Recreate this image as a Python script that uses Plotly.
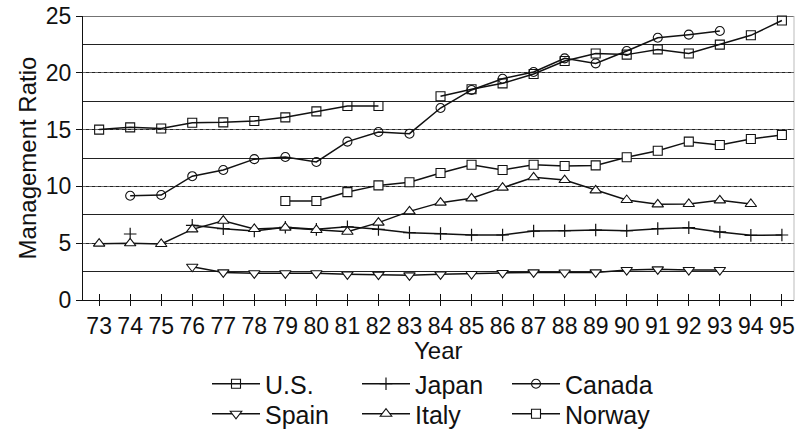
import plotly.graph_objects as go

years = list(range(73, 96))
year_labels = [str(y) for y in years]

us = [15.0, 15.2, 15.1, 15.6, 15.64, 15.76, 16.08, 16.6, 17.08, 17.08, None,
      17.93, 18.55, 19.07, 19.9, 21.04, 21.7, 21.6, 22.06, 21.7, 22.48, 23.3, 24.6]
japan = [None, 5.81, None, 6.57, 6.28, 6.07, 6.4, 6.22, 6.45, 6.22, 5.93,
         5.84, 5.72, 5.72, 6.07, 6.1, 6.16, 6.1, 6.28, 6.37, 5.99, 5.69, 5.72]
canada = [None, 9.18, 9.24, 10.9, 11.44, 12.4, 12.59, 12.15, 13.94, 14.79, 14.64,
          16.9, 18.49, 19.48, 20.07, 21.27, 20.83, 21.92, 23.09, 23.36, 23.68, None, None]
spain = [None, None, None, 2.93, 2.43, 2.35, 2.35, 2.35, 2.26, 2.23, 2.17,
         2.26, 2.29, 2.38, 2.43, 2.42, 2.43, 2.64, 2.7, 2.64, 2.64, None, None]
italy = [4.96, 4.99, 4.93, 6.22, 6.98, 6.25, 6.37, 6.16, 6.01, 6.81, 7.8,
         8.57, 8.95, 9.89, 10.8, 10.56, 9.65, 8.8, 8.42, 8.45, 8.77, 8.45, None]
norway = [None, None, None, None, None, None, 8.71, 8.71, 9.5, 10.09, 10.36,
          11.18, 11.91, 11.44, 11.91, 11.8, 11.85, 12.56, 13.14, 13.94, 13.64, 14.17, 14.52]

ytick_vals = [0, 5, 10, 15, 20, 25]
ytick_labels = ["0", "5", "10", "15", "20", "25"]
x_title = "Year"
y_title = "Management Ratio"

FONT = "Liberation Sans, Arial, sans-serif"
LC = "#111111"

fig = go.Figure()

def add(name, vals, symbol, size, fill, legend, lw=1.5, mlw=1.1):
    fig.add_trace(go.Scatter(
        x=years, y=vals, name=name, mode="lines+markers",
        line=dict(color=LC, width=lw),
        marker=dict(symbol=symbol, size=size, color=fill,
                    line=dict(color=LC, width=mlw)),
        connectgaps=False, legend=legend, cliponaxis=False))

add("U.S.", us, "square-open", 9, LC, "legend")
add("Japan", japan, "cross-thin", 9, LC, "legend", mlw=1.2)
add("Canada", canada, "circle-open", 9, LC, "legend")
add("Spain", spain, "triangle-down", 10, "white", "legend2")
add("Italy", italy, "triangle-up", 10, "white", "legend2")
add("Norway", norway, "square", 9, "white", "legend2")

# secondary x axis just for inward half of crossing tick marks
fig.add_trace(go.Scatter(x=[years[0]], y=[None], xaxis="x2", showlegend=False,
                         hoverinfo="skip"))

legend_common = dict(orientation="h", xref="container", yref="container",
                     x=207/797, xanchor="left", yanchor="middle",
                     itemwidth=48, entrywidth=87, entrywidthmode="pixels",
                     font=dict(size=25), bgcolor="rgba(0,0,0,0)", itemclick=False)

fig.update_layout(
    template="none",
    width=797, height=434,
    margin=dict(l=83, r=3, t=16, b=134, autoexpand=False),
    paper_bgcolor="white", plot_bgcolor="white",
    font=dict(family=FONT, size=23, color="#111111"),
    xaxis=dict(
        range=[72.48, 95.39], tickmode="array", tickvals=years, ticktext=year_labels,
        ticks="outside", ticklen=5, tickwidth=1, tickcolor=LC,
        showline=True, linecolor=LC, linewidth=1.2, mirror=False,
        showgrid=False, zeroline=False, automargin=False,
        tickfont=dict(size=23),
    ),
    xaxis2=dict(
        range=[72.48, 95.39], overlaying="x", tickmode="array", tickvals=years,
        ticks="inside", ticklen=6, tickwidth=1, tickcolor=LC,
        showticklabels=False, showgrid=False, zeroline=False, showline=False,
        side="bottom", automargin=False,
    ),
    yaxis=dict(
        range=[0, 25], tickmode="array", tickvals=ytick_vals, ticktext=ytick_labels,
        ticks="outside", ticklen=6, tickwidth=1, tickcolor=LC,
        showline=True, linecolor=LC, linewidth=1.2,
        showgrid=True, gridcolor="#666666", gridwidth=1.2, griddash="dot",
        minor=dict(dtick=2.5, tick0=0, showgrid=True, gridcolor="#222222",
                   gridwidth=1, griddash="solid", ticks=""),
        zeroline=False, automargin=False,
        title=dict(text=y_title, standoff=2, font=dict(size=24)),
        tickfont=dict(size=23),
    ),
    legend=dict(legend_common, y=1-384/434),
    legend2=dict(legend_common, y=1-414/434),
    showlegend=True,
)

# x-axis title placed just below the tick labels (plot area spans y=16..300 px)
fig.add_annotation(text=x_title, xref="paper", yref="paper", x=0.5,
                   y=(300-350)/284, xanchor="center", yanchor="middle",
                   showarrow=False, font=dict(size=24))

# top border line at 25 and right border
fig.add_shape(type="line", xref="paper", yref="y", x0=0, x1=1, y0=25, y1=25,
              line=dict(color="#444444", width=1.5), layer="below")
fig.add_shape(type="line", xref="paper", yref="paper", x0=1, x1=1, y0=0, y1=1,
              line=dict(color="#bbbbbb", width=1), layer="below")

fig.write_html("out.html",
               config={"displayModeBar": False},
               post_script="document.body.style.margin='0';document.body.style.overflow='hidden';")
